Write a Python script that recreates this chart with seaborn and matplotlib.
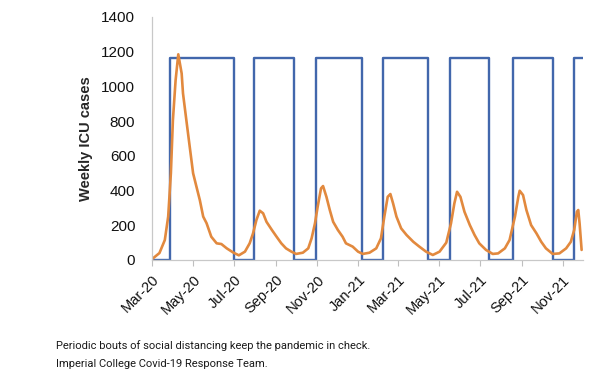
import pandas as pd
import matplotlib
matplotlib.use("Agg")
import matplotlib.pyplot as plt
import matplotlib.dates as mdates
import seaborn as sns

# weekly ICU cases (orange)
icu_dates = [
    "2020-03-01", "2020-03-12", "2020-03-20", "2020-03-25", "2020-03-29", "2020-04-01",
    "2020-04-05", "2020-04-09", "2020-04-14", "2020-04-16", "2020-04-21", "2020-04-26",
    "2020-05-01", "2020-05-06", "2020-05-11", "2020-05-16", "2020-05-21", "2020-05-28",
    "2020-06-05", "2020-06-12", "2020-06-20", "2020-06-30", "2020-07-08", "2020-07-17",
    "2020-07-24", "2020-07-29", "2020-08-03", "2020-08-08", "2020-08-13", "2020-08-18",
    "2020-08-26", "2020-09-02", "2020-09-09", "2020-09-16", "2020-09-24", "2020-10-01",
    "2020-10-11", "2020-10-19", "2020-10-24", "2020-10-29", "2020-11-02", "2020-11-07",
    "2020-11-10", "2020-11-15", "2020-11-20", "2020-11-25", "2020-12-02", "2020-12-09",
    "2020-12-14", "2020-12-24", "2021-01-01", "2021-01-08", "2021-01-18", "2021-01-28",
    "2021-02-04", "2021-02-09", "2021-02-14", "2021-02-18", "2021-02-22", "2021-02-27",
    "2021-03-06", "2021-03-14", "2021-03-24", "2021-04-02", "2021-04-12", "2021-04-22",
    "2021-05-02", "2021-05-12", "2021-05-19", "2021-05-24", "2021-05-28", "2021-06-02",
    "2021-06-08", "2021-06-16", "2021-06-23", "2021-06-30", "2021-07-10", "2021-07-20",
    "2021-07-28", "2021-08-07", "2021-08-14", "2021-08-22", "2021-08-27", "2021-08-29",
    "2021-09-03", "2021-09-08", "2021-09-15", "2021-09-23", "2021-09-30", "2021-10-07",
    "2021-10-17", "2021-10-27", "2021-11-06", "2021-11-13", "2021-11-18", "2021-11-22",
    "2021-11-24", "2021-11-26", "2021-11-29",
]
icu_cases = [
    5, 40, 115, 250, 500, 805,
    1035, 1185, 1075, 960, 805, 652,
    500, 422, 345, 250, 212, 134,
    96, 92, 67, 42, 27, 48,
    96, 153, 230, 284, 269, 220,
    173, 134, 96, 67, 48, 35,
    42, 67, 125, 211, 307, 413,
    426, 364, 288, 220, 173, 134,
    96, 77, 48, 35, 42, 67,
    125, 250, 364, 380, 326, 250,
    182, 144, 105, 77, 48, 29,
    48, 100, 211, 326, 393, 364,
    278, 201, 144, 96, 58, 35,
    38, 67, 115, 250, 364, 399,
    374, 288, 201, 153, 105, 67,
    35, 38, 67, 105, 173, 278,
    288, 211, 58,
]

# social distancing on/off trigger (blue)
switch_dates = [
    "2020-03-01", "2020-03-27", "2020-07-01", "2020-07-30", "2020-09-28",
    "2020-10-30", "2021-01-07", "2021-02-07", "2021-04-15", "2021-05-18",
    "2021-07-15", "2021-08-19", "2021-10-17", "2021-11-18", "2021-12-01",
]
switch_level = [0, 1165, 0, 1165, 0, 1165, 0, 1165, 0, 1165, 0, 1165, 0, 1165, 1165]

icu = pd.DataFrame({"date": pd.to_datetime(icu_dates), "cases": icu_cases})
switch = pd.DataFrame({"date": pd.to_datetime(switch_dates), "level": switch_level})

sns.set_style("white")
plt.rcParams["font.family"] = ["Liberation Sans", "DejaVu Sans"]

fig = plt.figure(figsize=(6.13, 3.81), dpi=100)
ax = fig.add_axes([0.248, 0.3176, 0.703, 0.6378])

sns.lineplot(data=switch, x="date", y="level", ax=ax, color="#4267AC",
             linewidth=1.7, drawstyle="steps-post")
sns.lineplot(data=icu, x="date", y="cases", ax=ax, color="#E2893E", linewidth=1.9)

ax.set_xlim(pd.Timestamp("2020-03-01"), pd.Timestamp("2021-12-01"))
ax.set_ylim(0, 1400)
ax.set_yticks(range(0, 1401, 200))

ax.xaxis.set_major_locator(mdates.MonthLocator(bymonth=[1, 3, 5, 7, 9, 11]))
ax.xaxis.set_major_formatter(mdates.DateFormatter("%b-%y"))
for lab in ax.get_xticklabels():
    lab.set_rotation(45)
    lab.set_ha("right")
    lab.set_rotation_mode("anchor")

ax.tick_params(axis="y", length=0, pad=12, labelsize=11, labelcolor="#111111")
ax.tick_params(axis="x", length=4, width=0.8, color="#BFBFBF", direction="out",
               pad=5, labelsize=10.5, labelcolor="#111111", bottom=True)

ax.set_xlabel("")
ax.set_ylabel("Weekly ICU cases", fontsize=10.5, fontweight="bold", labelpad=6)

for side in ["top", "right"]:
    ax.spines[side].set_visible(False)
for side in ["left", "bottom"]:
    ax.spines[side].set_color("#C8C8C8")
    ax.spines[side].set_linewidth(0.9)

fig.text(56 / 613, 1 - 349 / 381,
         "Periodic bouts of social distancing keep the pandemic in check.",
         fontsize=8, family="Roboto", color="#1a1a1a", va="baseline")
fig.text(56 / 613, 1 - 367 / 381,
         "Imperial College Covid-19 Response Team.",
         fontsize=8, family="Roboto", color="#1a1a1a", va="baseline")

fig.savefig("out.png", dpi=100)
